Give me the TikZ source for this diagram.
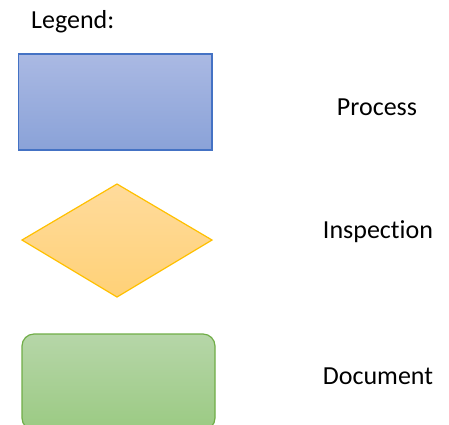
\documentclass[tikz,border=0pt]{standalone}
\usepackage{fontspec}
\setmainfont{Carlito}[Ligatures=NoCommon]
\definecolor{pborder}{HTML}{4472C4}
\definecolor{ptop}{HTML}{AAB9E3}
\definecolor{pbot}{HTML}{8AA2D8}
\definecolor{iborder}{HTML}{FFC000}
\definecolor{itop}{HTML}{FFDB9C}
\definecolor{ibot}{HTML}{FFD177}
\definecolor{dborder}{HTML}{70AD47}
\definecolor{dtop}{HTML}{B6D6A8}
\definecolor{dbot}{HTML}{9BCA83}
\tikzset{
  lbl/.style={font=\fontsize{26}{30}\selectfont, inner sep=0pt, anchor=center},
  procbox/.style={draw=pborder, line width=1.2pt, top color=ptop, bottom color=pbot},
  inspbox/.style={draw=iborder, line width=1.2pt, top color=itop, bottom color=ibot},
  docbox/.style={draw=dborder, line width=1.2pt, top color=dtop, bottom color=dbot, rounded corners=12pt},
}
\begin{document}
\begin{tikzpicture}[x=1pt,y=-1pt]
\useasboundingbox (0,0) rectangle (449,424);
\clip (0,0) rectangle (449,424);
\node[lbl, anchor=west] (legend) at (31,22) {Legend:};
\path[procbox] (18.5,54) rectangle (212,150);
\path[inspbox] (22,240) -- (117,184) -- (212,240) -- (117,297) -- cycle;
\path[docbox] (22,334) rectangle (215,430);
\node[lbl] (process) at (377,107) {Process};
\node[lbl] (inspection) at (378,232) {Inspection};
\node[lbl] (document) at (378,376) {Document};
\end{tikzpicture}
\end{document}
